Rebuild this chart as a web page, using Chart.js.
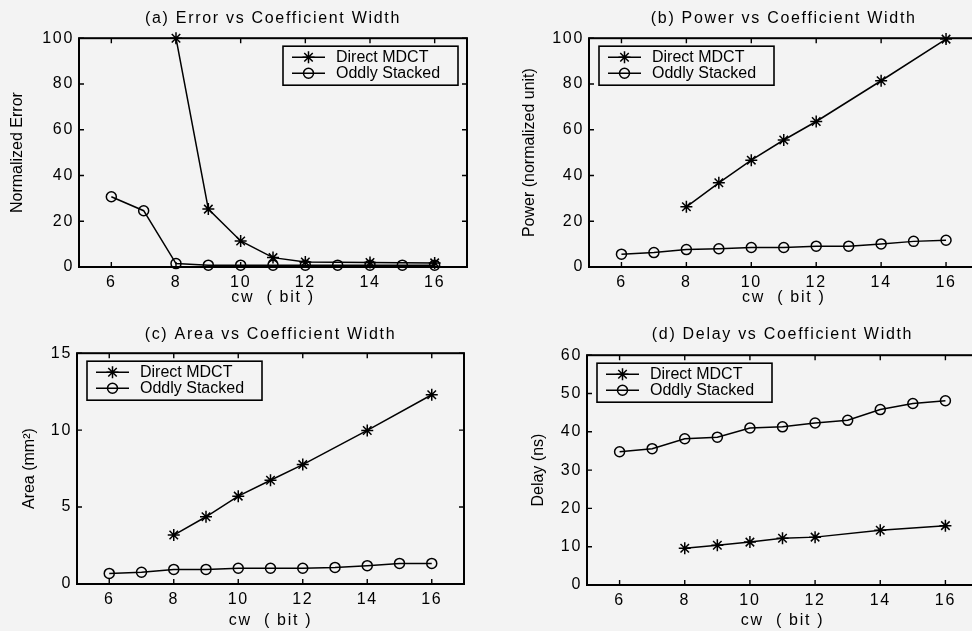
<!DOCTYPE html>
<html>
<head>
<meta charset="utf-8">
<script src="https://cdn.jsdelivr.net/npm/chart.js@4.4.0/dist/chart.umd.min.js"></script>
<style>
    html, body { margin: 0; padding: 0; width: 972px; height: 631px; overflow: hidden; background: #f3f3f3; }
    canvas { position: absolute; }
</style>
</head>
<body>
<canvas id="chartA"></canvas>
<canvas id="chartB"></canvas>
<canvas id="chartC"></canvas>
<canvas id="chartD"></canvas>
<script>
// 数据
const cwAll = [6, 7, 8, 9, 10, 11, 12, 13, 14, 15, 16];
const cwDirect = [8, 9, 10, 11, 12, 14, 16];
const xTicks = [6, 8, 10, 12, 14, 16];
const seriesNames = ['Direct MDCT', 'Oddly Stacked'];

const errorDirect = [100, 25.3, 11.4, 4.1, 2.2, 2, 1.8];
const errorOddly = [30.7, 24.6, 1.5, 0.8, 0.8, 0.8, 0.8, 0.8, 0.8, 0.8, 0.8];
const errorTicks = [0, 20, 40, 60, 80, 100];

const powerDirect = [26.3, 36.8, 46.7, 55.5, 63.6, 81.4, 99.6];
const powerOddly = [5.6, 6.3, 7.6, 8.0, 8.5, 8.5, 9.1, 9.1, 10.1, 11.2, 11.7];
const powerTicks = [0, 20, 40, 60, 80, 100];

const areaDirect = [3.18, 4.37, 5.71, 6.74, 7.76, 9.98, 12.3];
const areaOddly = [0.69, 0.76, 0.95, 0.95, 1.02, 1.02, 1.02, 1.08, 1.19, 1.34, 1.34];
const areaTicks = [0, 5, 10, 15];

const delayDirect = [9.6, 10.4, 11.2, 12.2, 12.5, 14.3, 15.5];
const delayOddly = [34.8, 35.6, 38.2, 38.6, 41.0, 41.3, 42.3, 43.0, 45.8, 47.4, 48.1];
const delayTicks = [0, 10, 20, 30, 40, 50, 60];

const BG = '#f3f3f3';
const INK = '#000';
const FONT = '"Liberation Sans", Arial, sans-serif';

// 面板布局
const panels = [
    {
        id: 'chartA', title: '(a) Error vs Coefficient Width', yLabel: 'Normalized Error',
        direct: errorDirect, oddly: errorOddly, yTicks: errorTicks,
        box: { left: 0, top: 0, width: 486, height: 307 },
        pad: { left: 0, right: 19, top: 0, bottom: 0 },
        yWidth: 79, xHeight: 40, titlePad: { top: 9, bottom: 10 }, yLabelX: 18, legendSide: 'right'
    },
    {
        id: 'chartB', title: '(b) Power vs Coefficient Width', yLabel: 'Power (normalized unit)',
        direct: powerDirect, oddly: powerOddly, yTicks: powerTicks,
        box: { left: 486, top: 0, width: 500, height: 307 },
        pad: { left: 0, right: 5, top: 0, bottom: 0 },
        yWidth: 103, xHeight: 40, titlePad: { top: 9, bottom: 10 }, yLabelX: 44, legendSide: 'left'
    },
    {
        id: 'chartC', title: '(c) Area vs Coefficient Width', yLabel: 'Area (mm²)',
        direct: areaDirect, oddly: areaOddly, yTicks: areaTicks,
        box: { left: 0, top: 315, width: 486, height: 315 },
        pad: { left: 0, right: 22, top: 0, bottom: 0 },
        yWidth: 77, xHeight: 46, titlePad: { top: 10, bottom: 9 }, yLabelX: 30, legendSide: 'left'
    },
    {
        id: 'chartD', title: '(d) Delay vs Coefficient Width', yLabel: 'Delay (ns)',
        direct: delayDirect, oddly: delayOddly, yTicks: delayTicks,
        box: { left: 486, top: 315, width: 500, height: 315 },
        pad: { left: 0, right: 8, top: 0, bottom: 0 },
        yWidth: 101, xHeight: 45, titlePad: { top: 10, bottom: 11 }, yLabelX: 53, legendSide: 'left'
    }
];

// MATLAB 风格：边框、内向刻度、y 轴标签、图例
const matlabStyle = {
    id: 'matlabStyle',
    beforeDraw(chart) {
        chart.ctx.letterSpacing = '1.7px';
    },
    afterDraw(chart, args, opts) {
        const { ctx, chartArea: a, scales } = chart;
        ctx.save();
        ctx.letterSpacing = '0px';
        ctx.strokeStyle = '#000';
        ctx.lineWidth = 2;
        ctx.strokeRect(a.left, a.top, a.right - a.left, a.bottom - a.top);

        // 内向刻度
        ctx.lineWidth = 1.4;
        ctx.beginPath();
        scales.x.ticks.forEach(t => {
            const px = scales.x.getPixelForValue(t.value);
            ctx.moveTo(px, a.bottom); ctx.lineTo(px, a.bottom - 5);
            ctx.moveTo(px, a.top); ctx.lineTo(px, a.top + 5);
        });
        scales.y.ticks.forEach(t => {
            const py = scales.y.getPixelForValue(t.value);
            ctx.moveTo(a.left, py); ctx.lineTo(a.left + 5, py);
            ctx.moveTo(a.right, py); ctx.lineTo(a.right - 5, py);
        });
        ctx.stroke();

        // y 轴标签
        ctx.save();
        ctx.translate(opts.yLabelX, (a.top + a.bottom) / 2);
        ctx.rotate(-Math.PI / 2);
        ctx.fillStyle = INK;
        ctx.font = '16px ' + FONT;
        ctx.textAlign = 'center';
        ctx.textBaseline = 'middle';
        ctx.fillText(opts.yLabel, 0, 0);
        ctx.restore();

        // 图例
        const w = 175, h = 39;
        const x0 = opts.legendSide === 'right' ? a.right - 9 - w : a.left + 10;
        const y0 = a.top + 8;
        ctx.fillStyle = BG;
        ctx.fillRect(x0, y0, w, h);
        ctx.lineWidth = 1.6;
        ctx.strokeRect(x0, y0, w, h);
        chart.data.datasets.forEach((ds, i) => {
            const yy = y0 + 11 + i * 16;
            ctx.strokeStyle = ds.borderColor;
            ctx.lineWidth = ds.borderWidth;
            ctx.beginPath();
            ctx.moveTo(x0 + 9, yy);
            ctx.lineTo(x0 + 42, yy);
            ctx.stroke();
            ctx.fillStyle = ds.pointBackgroundColor;
            Chart.helpers.drawPoint(ctx, {
                pointStyle: ds.pointStyle, radius: ds.pointRadius, borderWidth: ds.borderWidth
            }, x0 + 25.5, yy);
            ctx.fillStyle = INK;
            ctx.font = '16px ' + FONT;
            ctx.textAlign = 'left';
            ctx.textBaseline = 'middle';
            ctx.fillText(ds.label, x0 + 53, yy);
        });
        ctx.restore();
    }
};

function makeDataset(label, xs, ys, style, radius) {
    return {
        label: label,
        data: xs.map((x, i) => ({ x: x, y: ys[i] })),
        borderColor: '#000',
        borderWidth: 1.5,
        pointStyle: style,
        pointRadius: radius,
        pointBorderWidth: 1.5,
        pointBorderColor: '#000',
        pointBackgroundColor: 'rgba(0,0,0,0)',
        tension: 0,
        clip: false
    };
}

function makeChart(p) {
    const canvas = document.getElementById(p.id);
    canvas.width = p.box.width;
    canvas.height = p.box.height;
    canvas.style.left = p.box.left + 'px';
    canvas.style.top = p.box.top + 'px';

    const tickFont = { family: FONT, size: 16 };
    new Chart(canvas, {
        type: 'line',
        data: {
            datasets: [
                makeDataset(seriesNames[0], cwDirect, p.direct, 'star', 6),
                makeDataset(seriesNames[1], cwAll, p.oddly, 'circle', 5)
            ]
        },
        options: {
            responsive: false,
            animation: false,
            devicePixelRatio: 1,
            layout: { padding: p.pad },
            plugins: {
                legend: { display: false },
                tooltip: { enabled: false },
                title: {
                    display: true,
                    text: p.title,
                    fullSize: false,
                    color: INK,
                    font: { family: FONT, size: 16, weight: 'normal' },
                    padding: p.titlePad
                },
                matlabStyle: { yLabel: p.yLabel, yLabelX: p.yLabelX, legendSide: p.legendSide }
            },
            scales: {
                x: {
                    type: 'linear',
                    min: 5,
                    max: 17,
                    afterBuildTicks: s => { s.ticks = xTicks.map(v => ({ value: v })); },
                    afterFit: s => { s.height = p.xHeight; },
                    grid: { display: false, drawTicks: false },
                    border: { display: false },
                    ticks: { padding: 6, color: INK, font: tickFont, maxRotation: 0 },
                    title: {
                        display: true,
                        text: 'cw  ( bit )',
                        color: INK,
                        font: tickFont,
                        padding: { top: 0, bottom: 0 }
                    }
                },
                y: {
                    min: p.yTicks[0],
                    max: p.yTicks[p.yTicks.length - 1],
                    afterBuildTicks: s => { s.ticks = p.yTicks.map(v => ({ value: v })); },
                    afterFit: s => { s.width = p.yWidth; },
                    grid: { display: false, drawTicks: false },
                    border: { display: false },
                    ticks: { padding: 5, color: INK, font: tickFont }
                }
            }
        },
        plugins: [matlabStyle]
    });
}

panels.forEach(makeChart);
</script>
</body>
</html>
